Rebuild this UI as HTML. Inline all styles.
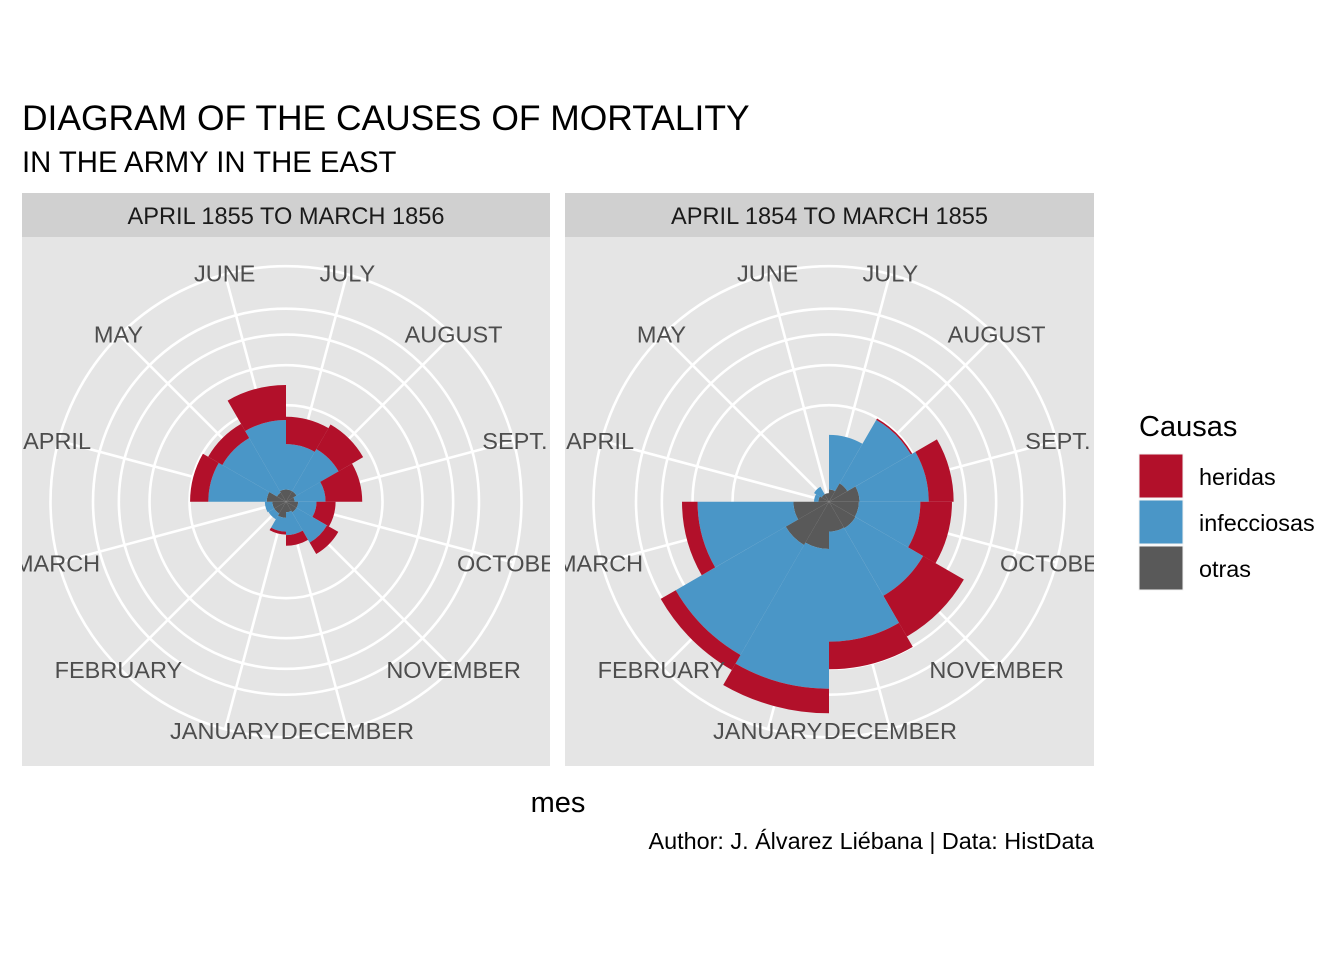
<!DOCTYPE html>
<html><head><meta charset="utf-8">
<style>
body{margin:0;background:#fff;}
svg{display:block;font-family:"Liberation Sans",sans-serif;}
</style></head>
<body>
<svg id="chart" width="1344" height="960" viewBox="0 0 1344 960">
  <text x="22" y="130" font-size="35.4" fill="#000">DIAGRAM OF THE CAUSES OF MORTALITY</text>
  <text x="22" y="172" font-size="29.3" fill="#000">IN THE ARMY IN THE EAST</text>
  <defs>
    <clipPath id="clipL"><rect x="22" y="237" width="528" height="529"/></clipPath>
    <clipPath id="clipR"><rect x="565" y="237" width="529" height="529"/></clipPath>
  </defs>
  <g id="panels"></g>
  <text x="558" y="812" font-size="29" text-anchor="middle" fill="#000">mes</text>
  <text x="1094" y="849" font-size="23.4" text-anchor="end" fill="#000">Author: J. Álvarez Liébana | Data: HistData</text>
  <g>
    <text x="1139" y="436" font-size="29" fill="#000">Causas</text>
    <rect x="1139" y="454" width="44" height="44" fill="#b2102a" stroke="#f2f2f2"/>
    <text x="1199" y="485" font-size="23.4" fill="#000">heridas</text>
    <rect x="1139" y="500" width="44" height="44" fill="#4a96c7" stroke="#f2f2f2"/>
    <text x="1199" y="531" font-size="23.4" fill="#000">infecciosas</text>
    <rect x="1139" y="546" width="44" height="44" fill="#595959" stroke="#f2f2f2"/>
    <text x="1199" y="577" font-size="23.4" fill="#000">otras</text>
  </g>
</svg>
<script>
// months clockwise starting at top (0°)
const months = ["JULY","AUGUST","SEPT.","OCTOBER","NOVEMBER","DECEMBER","JANUARY","FEBRUARY","MARCH","APRIL","MAY","JUNE"];
const panelTitles = ["APRIL 1855 TO MARCH 1856","APRIL 1854 TO MARCH 1855"];
// Panel 1: April 1855 - March 1856
const otras1 =       [4, 4, 2, 4, 4, 3, 7, 5, 5, 10, 3, 4];
const infecciosas1 = [85, 95, 40, 21, 56, 27, 17, 6, 7, 152, 142, 175];
const heridas1 =     [105, 114, 114, 41, 38, 22, 5, 0, 0, 85, 72, 187];
// Panel 2: April 1854 - March 1855
const otras2 =       [4, 12, 25, 24, 25, 24, 60, 67, 34, 3, 2, 2];
const infecciosas2 = [116, 228, 242, 200, 292, 502, 879, 774, 430, 3, 6, 0];
const heridas2 =     [0, 8, 150, 182, 334, 228, 263, 173, 116, 0, 0, 0];
const rBreaks = [250, 500, 750, 1000];

const K = 96.5/Math.sqrt(250); // sqrt scale
function rScale(v){ return K*Math.sqrt(Math.max(0,v)); }
function aScale(i){ return i*Math.PI/6; }
const OUTER = 235.5;
const NS = "http://www.w3.org/2000/svg";
function mk(tag, attrs){ const e=document.createElementNS(NS,tag); for(const k in attrs) e.setAttribute(k,attrs[k]); return e; }
function pt(cx,cy,r,a){ return [cx+r*Math.sin(a), cy-r*Math.cos(a)]; }
function sector(cx,cy,r0,r1,a0,a1){
  const p1=pt(cx,cy,r1,a0), p2=pt(cx,cy,r1,a1), p3=pt(cx,cy,r0,a1), p4=pt(cx,cy,r0,a0);
  let d=`M${p1[0]},${p1[1]} A${r1},${r1} 0 0 1 ${p2[0]},${p2[1]} L${p3[0]},${p3[1]}`;
  if(r0>0) d+=` A${r0},${r0} 0 0 0 ${p4[0]},${p4[1]}`;
  return d+"Z";
}
const root=document.getElementById("panels");
const panels=[
  {x:22,w:528,clip:"clipL",o:otras1,inf:infecciosas1,h:heridas1},
  {x:565,w:529,clip:"clipR",o:otras2,inf:infecciosas2,h:heridas2}
];
panels.forEach((p,pi)=>{
  const g=mk("g",{});
  
  
  root.appendChild(g);
  const strip=mk("rect",{x:p.x,y:193,width:p.w,height:44,fill:"#d0d0d0"});
  
  
  g.appendChild(strip);
  const st=mk("text",{x:p.x+p.w/2,y:224,"font-size":23.6,"text-anchor":"middle",fill:"#1a1a1a"});
  st.textContent=panelTitles[pi];
  
  
  g.appendChild(st);
  const bg=mk("rect",{x:p.x,y:237,width:p.w,height:529,fill:"#e5e5e5"});
  
  
  g.appendChild(bg);
  const cg=mk("g",{"clip-path":`url(#${p.clip})`});
  g.appendChild(cg);
  const cx=p.x+264, cy=501.7;
  rBreaks.forEach(b=>{
    const c=mk("circle",{cx:cx,cy:cy,r:rScale(b),fill:"none",stroke:"#fff","stroke-width":2.6});
    
    
    cg.appendChild(c);
  });
  const oc=mk("circle",{cx:cx,cy:cy,r:OUTER,fill:"none",stroke:"#fff","stroke-width":2.6});
  
  
  cg.appendChild(oc);
  months.forEach((m,i)=>{
    const a=aScale(i)+Math.PI/12;
    const e=pt(cx,cy,OUTER,a);
    const l=mk("line",{x1:cx,y1:cy,x2:e[0],y2:e[1],stroke:"#fff","stroke-width":2.6});
    
    
    cg.appendChild(l);
  });
  months.forEach((m,i)=>{
    const a0=aScale(i), a1=aScale(i+1);
    const c1=p.o[i], c2=c1+p.inf[i], c3=c2+p.h[i];
    [[0,c1,"#595959","otras"],[c1,c2,"#4a96c7","infecciosas"],[c2,c3,"#b2102a","heridas"]].forEach(s=>{
      if(s[1]<=s[0]) return;
      const path=mk("path",{d:sector(cx,cy,rScale(s[0]),rScale(s[1]),a0,a1),fill:s[2]});
      
      
      cg.appendChild(path);
    });
  });
  months.forEach((m,i)=>{
    const a=aScale(i)+Math.PI/12;
    const q=pt(cx,cy,237,a);
    const t=mk("text",{x:q[0],y:q[1]+8.5,"font-size":23.5,"text-anchor":"middle",fill:"#4d4d4d"});
    t.textContent=m;
    
    
    cg.appendChild(t);
  });
});
</script>
</body></html>
